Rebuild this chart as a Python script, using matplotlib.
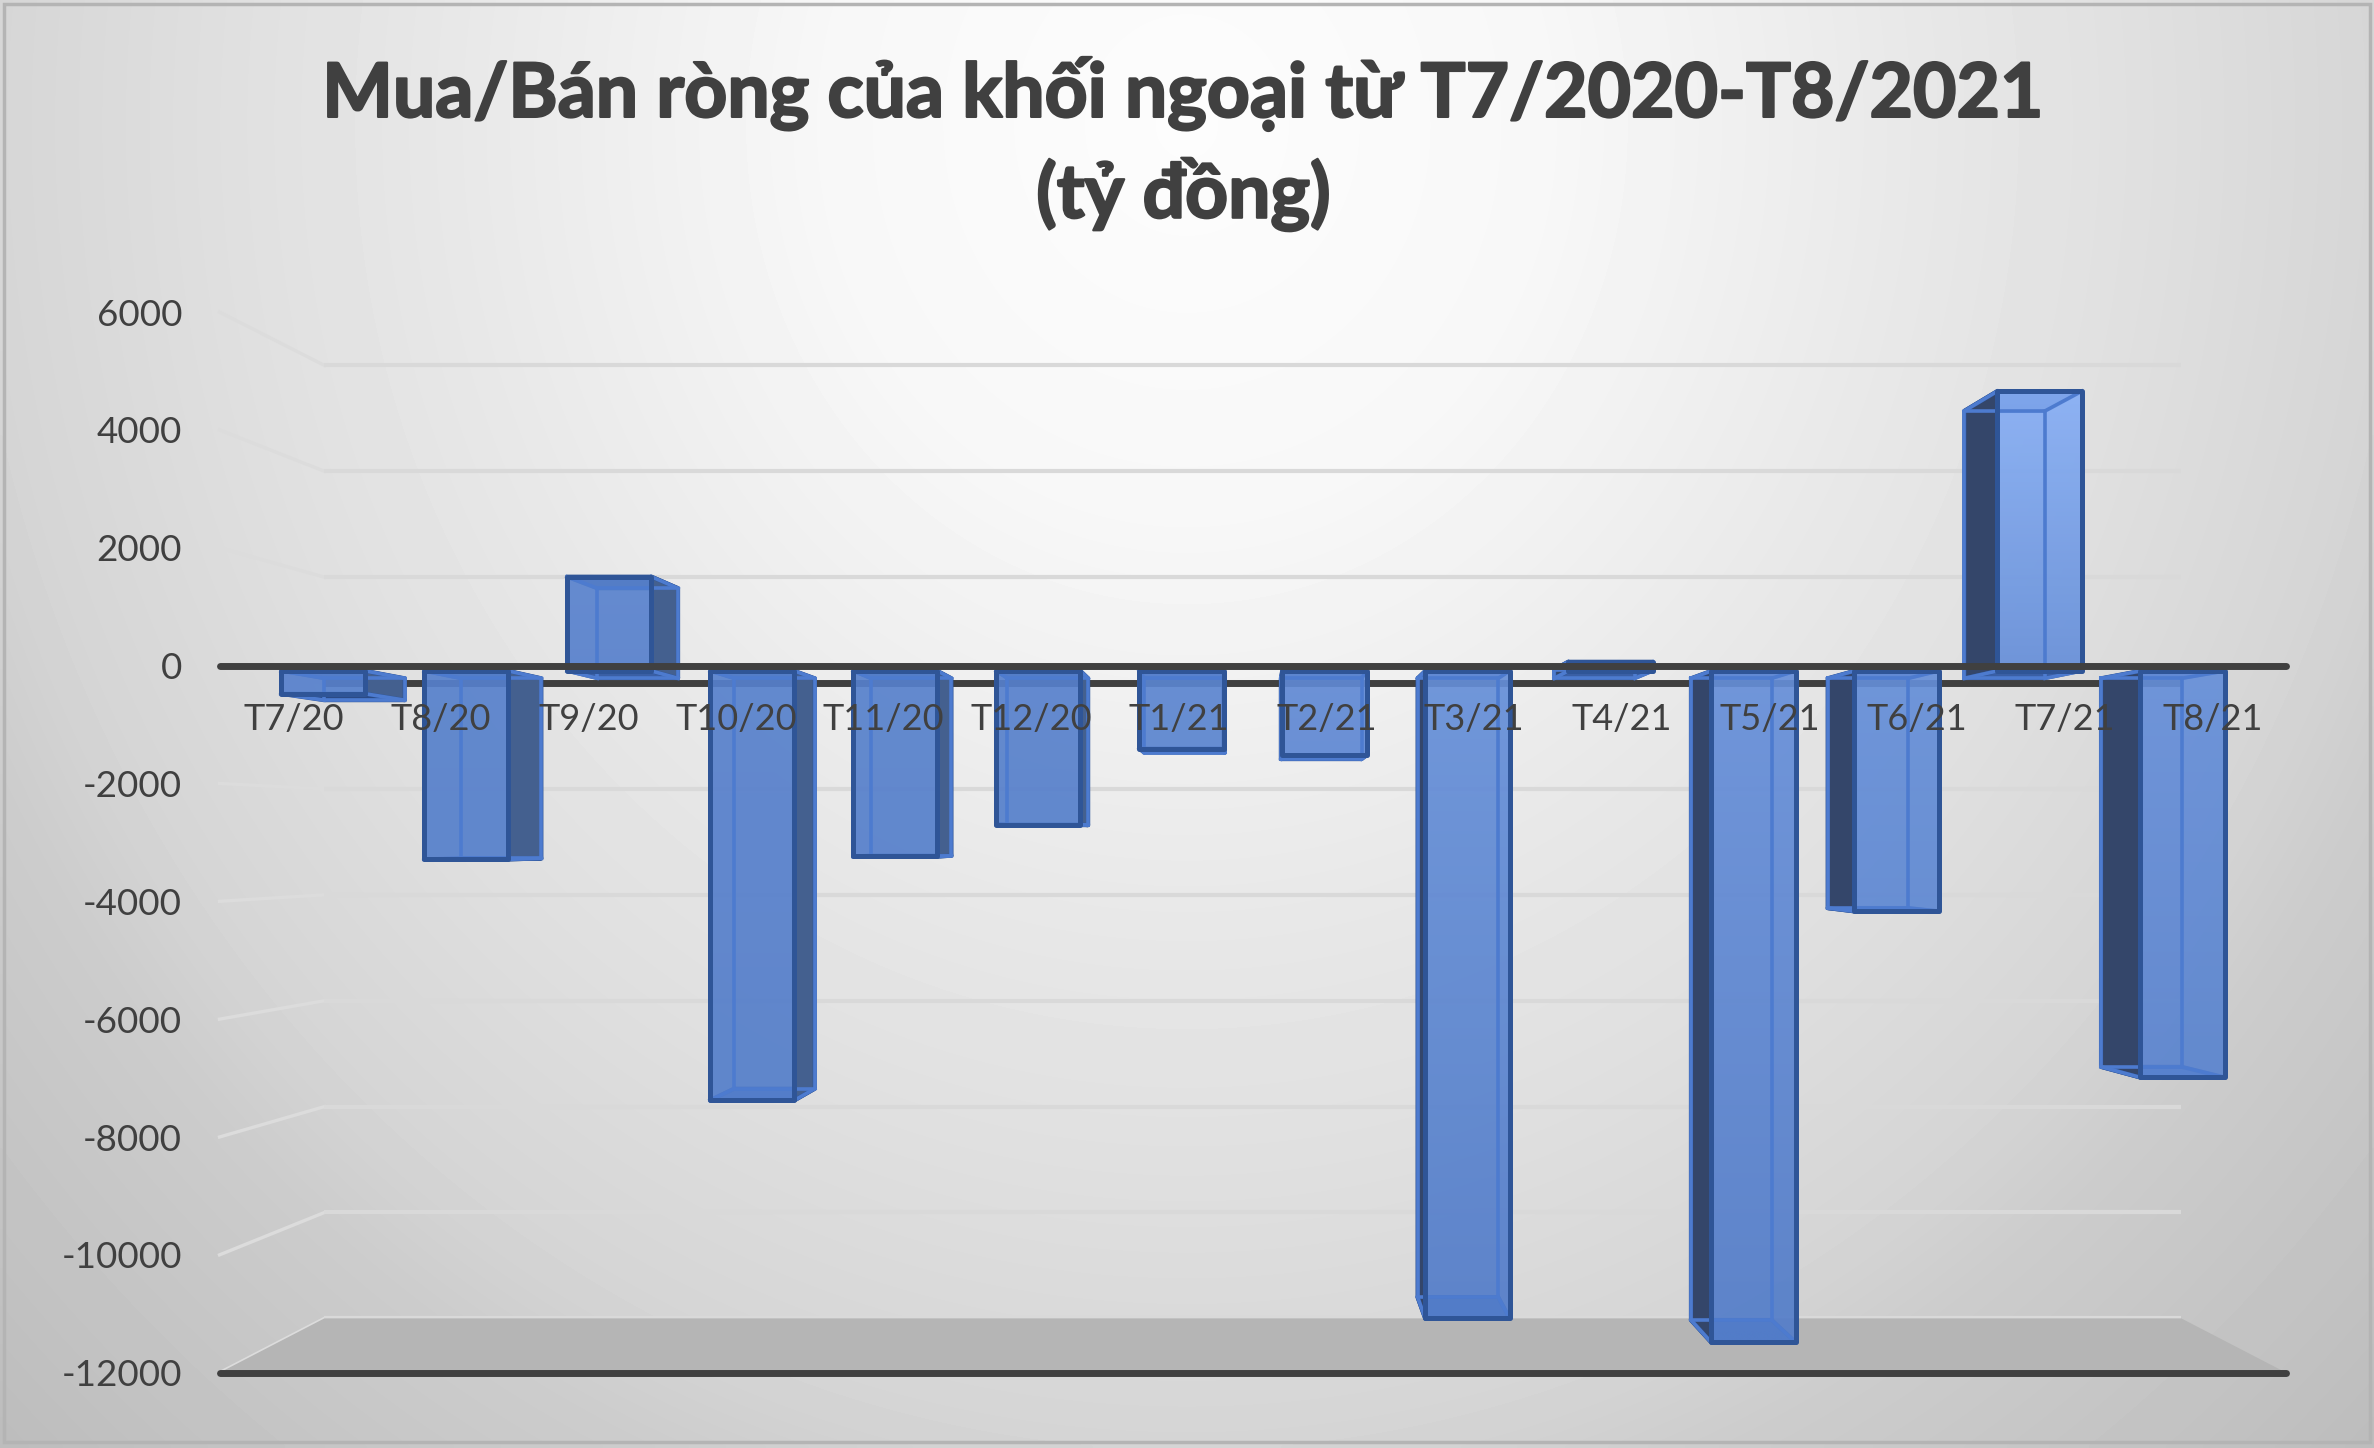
import matplotlib
matplotlib.use("Agg")
import matplotlib.pyplot as plt
import matplotlib.patheffects as pe
from matplotlib.patches import Polygon
from matplotlib.colors import to_rgb
import numpy as np

months = ["T7/20", "T8/20", "T9/20", "T10/20", "T11/20", "T12/20", "T1/21",
          "T2/21", "T3/21", "T4/21", "T5/21", "T6/21", "T7/21", "T8/21"]
net_flow = [-400, -3300, 1650, -7520, -3250, -2690, -1360,
            -1480, -11340, 160, -11760, -4210, 4900, -7120]
value_ticks = [6000, 4000, 2000, 0, -2000, -4000, -6000, -8000, -10000, -12000]
title_text = "Mua/Bán ròng của khối ngoại từ T7/2020-T8/2021\n(tỷ đồng)"

plt.rcParams['font.family'] = ['Lato', 'Noto Sans', 'DejaVu Sans']
text_color = '#404040'

# perspective of the fake 3D box, depth 1 is the front plane
vanish_x = 6.5
vanish_y = -2918
depth_back = 0.8985
depth_near = 0.969
depth_far = 0.926
bar_half = 0.295


def project(x, v, s):
    return vanish_x + s * (x - vanish_x), vanish_y + s * (v - vanish_y)


def face_color(v, i):
    # faces get lighter towards the top, left bars stay flat
    t = np.interp(v, [-11500, 0, 4900], [0.0, 0.36, 1.0])
    t = t * np.interp(i, [5, 8], [0.2, 1.0])
    dark = np.array(to_rgb('#537dc9'))
    light = np.array(to_rgb('#86aef5'))
    return dark + (light - dark) * t


fig = plt.figure(figsize=(23.74, 14.48), dpi=100, facecolor='white')

# background gradient
bg = fig.add_axes([0, 0, 1, 1], zorder=0)
yy, xx = np.mgrid[0:1:300j, 0:1:490j]
dist = np.sqrt(((xx - 0.5) / 0.51) ** 2 + ((yy - 0.085) / 0.91) ** 2)
shade = np.interp(dist, [0, 0.3, 0.6, 0.8, 1.0, 1.1, 1.4], [0.99, 0.97, 0.91, 0.875, 0.835, 0.80, 0.74])
bg.imshow(shade, cmap='gray', vmin=0, vmax=1, extent=[0, 1, 1, 0], aspect='auto', interpolation='bilinear')
bg.set_xlim(0, 1)
bg.set_ylim(1, 0)
bg.axis('off')
bg.add_patch(plt.Rectangle((0.0015, 0.003), 0.997, 0.993, fill=False, ec='#b4b4b4', lw=2.5))

ax = fig.add_axes([0.09247, 0.0520, 0.87054, 0.7325], zorder=1)
ax.patch.set_alpha(0)
x_min, x_max = -0.5, len(months) - 0.5
y_min, y_max = -12000, 6000

# back wall and left wall gridlines
for tick in value_ticks:
    bx0, by0 = project(x_min, tick, depth_back)
    bx1, by1 = project(x_max, tick, depth_back)
    grid_col = '#404040' if tick == 0 else '#d9d9d9'
    grid_lw = 5.0 if tick == 0 else 3.0
    ax.plot([bx0, bx1], [by0, by1], color=grid_col, lw=grid_lw, zorder=1.2, solid_capstyle='butt', clip_on=False)
    ax.plot([x_min, bx0], [tick, by0], color='#dcdcdc', lw=2.4, zorder=1.1, clip_on=False)

# floor
floor = [project(x_min, y_min, 1), project(x_max, y_min, 1), project(x_max, y_min, depth_back), project(x_min, y_min, depth_back)]
ax.add_patch(Polygon(floor, closed=True, fc='#b5b5b5', ec='none', zorder=1.3, clip_on=False))
ax.plot([x_min, x_max], [y_min, y_min], color='#404040', lw=5.0, zorder=2.6, solid_capstyle='round', clip_on=False)

for i, v in enumerate(net_flow):
    lo, hi = i - bar_half, i + bar_half
    near = [project(lo, 0, depth_near), project(hi, 0, depth_near), project(hi, v, depth_near), project(lo, v, depth_near)]
    far = [project(lo, 0, depth_far), project(hi, 0, depth_far), project(hi, v, depth_far), project(lo, v, depth_far)]

    # caps at both ends of the box
    end_above = v > vanish_y
    end_col = '#2b4a85' if end_above else '#4f79c6'
    ax.add_patch(Polygon([near[0], near[1], far[1], far[0]], closed=True, fc='#3a5fa5', ec='#2f5597', lw=2.5,
                         joinstyle='round', zorder=1.6, clip_on=False))
    ax.add_patch(Polygon([near[3], near[2], far[2], far[3]], closed=True, fc=end_col, ec='#2f5597', lw=3.0,
                         joinstyle='round', zorder=1.6, clip_on=False))

    # the side we can see from the vanishing point
    if i > vanish_x:
        side = [near[0], far[0], far[3], near[3]]
        side_col = '#34466a'
    else:
        side = [near[1], far[1], far[2], near[2]]
        side_col = '#44608f'
    ax.add_patch(Polygon(side, closed=True, fc=side_col, ec='#2f5597', lw=3.0, joinstyle='round', zorder=1.7, clip_on=False))

    # front face with vertical gradient
    low, high = min(0, v), max(0, v)
    grad_y = np.linspace(high, low, 32)
    grad = np.array([face_color(val, i) for val in grad_y]).reshape(32, 1, 3)
    near_low = project(0, low, depth_near)[1]
    near_high = project(0, high, depth_near)[1]
    ax.imshow(grad, extent=[near[0][0], near[1][0], near_low, near_high], aspect='auto', alpha=0.92,
              interpolation='bilinear', zorder=1.8, clip_on=False)

    # back edges and depth edges seen through the front
    inner = '#4d7bcf'
    far_xy = np.array(far + [far[0]])
    ax.plot(far_xy[:, 0], far_xy[:, 1], color=inner, lw=2.6, zorder=2.0, clip_on=False)
    for a, b in zip(near, far):
        ax.plot([a[0], b[0]], [a[1], b[1]], color=inner, lw=2.6, zorder=2.0, clip_on=False)
    ax.add_patch(Polygon(near, closed=True, fill=False, ec='#2f5597', lw=3.6, joinstyle='round', zorder=2.1, clip_on=False))

ax.set_xlim(x_min, x_max)
ax.set_ylim(y_min, y_max)
ax.set_xticks(range(len(months)))
ax.set_xticklabels(months)
ax.set_yticks(value_ticks)
ax.set_yticklabels([str(t) for t in value_ticks])
ax.tick_params(axis='x', length=0, pad=27, labelsize=26, labelcolor=text_color)
ax.tick_params(axis='y', length=0, pad=27, labelsize=26.5, labelcolor=text_color)
ax.set_axisbelow(False)
for name in ['top', 'left', 'right']:
    ax.spines[name].set_visible(False)
ax.spines['bottom'].set_position(('data', 0))
ax.spines['bottom'].set_color('#404040')
ax.spines['bottom'].set_linewidth(5.0)
ax.spines['bottom'].set_capstyle('round')
ax.spines['bottom'].set_zorder(2.6)

title = fig.text(0.4985, 0.9, title_text, ha='center', va='center', fontsize=54, fontweight='bold', color=text_color, linespacing=1.43)
title.set_path_effects([pe.withStroke(linewidth=1.6, foreground=text_color)])

fig.savefig("out.png", dpi=100)
